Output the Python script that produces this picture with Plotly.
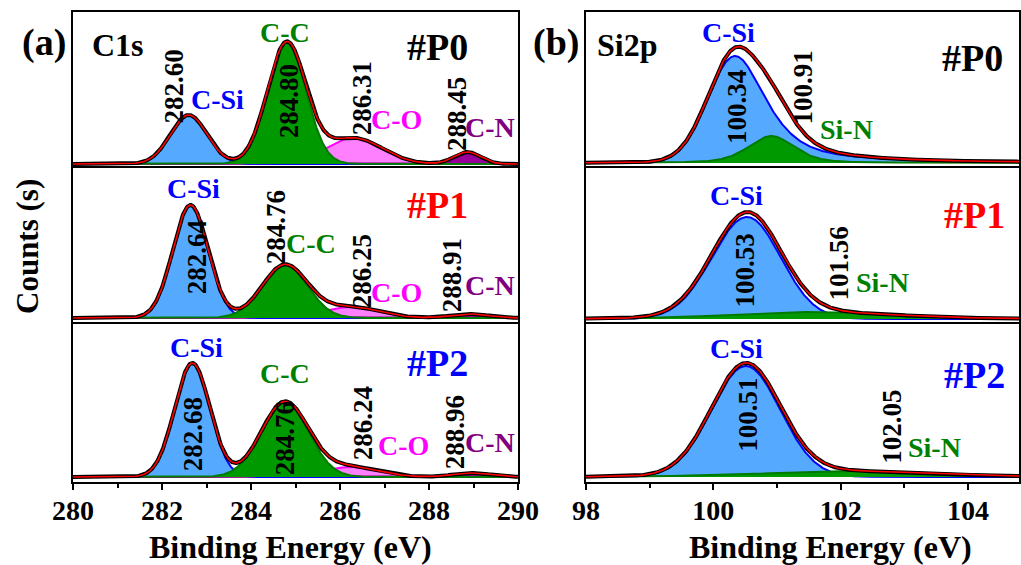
import numpy as np
import plotly.graph_objects as go

# ------------------------------------------------------------------
# Data
# ------------------------------------------------------------------
samples = ["#P0", "#P1", "#P2"]
sample_colors = ["#000000", "#FF0000", "#0000FF"]

# Panel (a): C1s peak-fit components (height in arbitrary counts)
c1s_components = ["C-Si", "C-C", "C-O", "C-N"]
c1s_labels = [["282.60", "284.80", "286.31", "288.45"],
              ["282.64", "284.76", "286.25", "288.91"],
              ["282.68", "284.76", "286.24", "288.96"]]
c1s_center = [[282.60, 284.80, 286.31, 288.86],
              [282.64, 284.76, 286.25, 288.91],
              [282.68, 284.76, 286.24, 288.96]]
c1s_height = [[49, 121, 26, 12],
              [113, 53, 11, 4],
              [114, 75, 10, 4]]
c1s_fwhm = [[0.97, 1.02, 1.5, 0.7],
            [0.93, 1.2, 1.5, 1.0],
            [0.93, 1.25, 1.5, 1.0]]

# Panel (b): Si2p peak-fit components
si_components = ["C-Si", "Si-N"]
si_labels = [["100.34", "100.91"], ["100.53", "101.56"], ["100.51", "102.05"]]
si_center = [[100.34, 100.91], [100.53, 101.56], [100.51, 102.05]]
si_height = [[107, 27], [102, 7], [111, 6]]
si_fwhm_left = [[1.0, 0.85], [1.3, 3.0], [1.27, 3.2]]
si_fwhm_right = [[1.16, 0.85], [1.24, 3.0], [1.27, 3.2]]
si_lorentz_left = [[0.0, 0.4], [0.0, 0.3], [0.0, 0.3]]
si_lorentz_right = [[0.7, 0.4], [0.0, 0.3], [0.0, 0.3]]

c1s_xrange = [280, 290]
si_xrange = [98, 104.8]
tick_vals_a = [280, 282, 284, 286, 288, 290]
tick_vals_b = [98, 100, 102, 104]

# ------------------------------------------------------------------
# Styling
# ------------------------------------------------------------------
FONT = "Liberation Serif"
W, H = 1021, 565
comp_style = {
    "C-Si": dict(fill="#55AAFF", line="#0000FF", text="#0000FF"),
    "C-C": dict(fill="#009900", line="#007A00", text="#008000"),
    "C-O": dict(fill="#FF80FF", line="#FF00FF", text="#FF00FF"),
    "C-N": dict(fill="#990099", line="#800080", text="#800080"),
    "Si-N": dict(fill="#009900", line="#007A00", text="#008000"),
}

xdom = [[73 / W, 518 / W], [586 / W, 1019 / W]]
ydom = [[1 - 166 / H, 1 - 12 / H], [1 - 322 / H, 1 - 168 / H], [1 - 482 / H, 1 - 324 / H]]
yranges = [[[-2, 152], [-4, 150], [-5, 153]],
           [[-3, 151], [-3, 151], [-5, 153]]]

# annotation placements (data coordinates of each subplot)
a_name_pos = [[(283.24, 64), (284.77, 131), (287.28, 44), (289.37, 36)],
              [(282.70, 130), (285.35, 75), (287.28, 26), (289.37, 33)],
              [(282.77, 130), (284.77, 104), (287.42, 32), (289.37, 35)]]
a_num_pos = [[(282.26, 77), (284.86, 63), (286.50, 66), (288.63, 50)],
             [(282.79, 61), (284.57, 91), (286.50, 47), (288.52, 43)],
             [(282.70, 43), (284.77, 39), (286.52, 54), (288.59, 45)]]
a_sample_pos = [(288.2, 117), (288.18, 113), (288.18, 114)]
b_name_pos = [[(100.24, 130), (102.09, 33)],
              [(100.37, 124), (102.66, 37)],
              [(100.37, 129), (103.47, 30)]]
b_num_pos = [[(100.37, 56), (101.40, 75)],
             [(100.49, 48), (101.98, 56)],
             [(100.54, 62), (102.80, 50)]]
b_sample_pos = [(104.07, 105), (104.10, 104), (104.10, 102)]


def peak(x, c, h, wl, wr, ml=0.0, mr=0.0):
    w = np.where(x < c, wl, wr)
    m = np.where(x < c, ml, mr)
    u = (x - c) / (w / 2.0)
    return h * ((1 - m) * np.exp(-np.log(2) * u ** 2) + m / (1 + u ** 2))


fig = go.Figure()
annotations = []

xa = np.linspace(c1s_xrange[0], c1s_xrange[1], 801)
xb = np.linspace(si_xrange[0], si_xrange[1], 681)


def ax_names(row, col):
    idx = row * 2 + col + 1
    s = "" if idx == 1 else str(idx)
    return "x" + s, "y" + s, idx


def text_ann(text, x, y, xref, yref, color, size, angle=0):
    annotations.append(dict(text=text, x=x, y=y, xref=xref, yref=yref,
                            xanchor="center", yanchor="middle",
                            showarrow=False, textangle=angle,
                            font=dict(family=FONT, size=size, color=color, weight="bold")))


for r in range(3):
    # ---------------- panel (a) ----------------
    xr, yr, idx = ax_names(r, 0)
    comps = [peak(xa, c1s_center[r][k], c1s_height[r][k], c1s_fwhm[r][k], c1s_fwhm[r][k])
             for k in range(4)]
    for k in [2, 3, 0, 1]:
        st = comp_style[c1s_components[k]]
        fig.add_trace(go.Scatter(x=xa, y=comps[k], mode="lines", fill="tozeroy",
                                 fillcolor=st["fill"], line=dict(color=st["line"], width=2),
                                 xaxis=xr, yaxis=yr, showlegend=False, hoverinfo="skip"))
    total = np.sum(comps, axis=0)
    fig.add_trace(go.Scatter(x=xa, y=total, mode="lines", line=dict(color="black", width=4),
                             xaxis=xr, yaxis=yr, showlegend=False, hoverinfo="skip"))
    fig.add_trace(go.Scatter(x=xa, y=total, mode="lines", line=dict(color="#FF0000", width=1.6),
                             xaxis=xr, yaxis=yr, showlegend=False, hoverinfo="skip"))
    for k in range(4):
        st = comp_style[c1s_components[k]]
        nx, ny = a_name_pos[r][k]
        text_ann(c1s_components[k], nx, ny, xr, yr, st["text"], 28)
        vx, vy = a_num_pos[r][k]
        text_ann(c1s_labels[r][k], vx, vy, xr, yr, "black", 27, -90)
    sx, sy = a_sample_pos[r]
    text_ann(samples[r], sx, sy, xr, yr, sample_colors[r], 38)
    if r == 0:
        text_ann("C1s", 281.0, 119, xr, yr, "black", 32)

    # ---------------- panel (b) ----------------
    xr, yr, idx = ax_names(r, 1)
    comps = [peak(xb, si_center[r][k], si_height[r][k], si_fwhm_left[r][k], si_fwhm_right[r][k],
                  si_lorentz_left[r][k], si_lorentz_right[r][k]) for k in range(2)]
    for k in [0, 1]:
        st = comp_style[si_components[k]]
        fig.add_trace(go.Scatter(x=xb, y=comps[k], mode="lines", fill="tozeroy",
                                 fillcolor=st["fill"], line=dict(color=st["line"], width=2),
                                 xaxis=xr, yaxis=yr, showlegend=False, hoverinfo="skip"))
    total = np.sum(comps, axis=0)
    fig.add_trace(go.Scatter(x=xb, y=total, mode="lines", line=dict(color="black", width=4),
                             xaxis=xr, yaxis=yr, showlegend=False, hoverinfo="skip"))
    fig.add_trace(go.Scatter(x=xb, y=total, mode="lines", line=dict(color="#FF0000", width=1.6),
                             xaxis=xr, yaxis=yr, showlegend=False, hoverinfo="skip"))
    for k in range(2):
        st = comp_style[si_components[k]]
        nx, ny = b_name_pos[r][k]
        text_ann(si_components[k], nx, ny, xr, yr, st["text"], 28)
        vx, vy = b_num_pos[r][k]
        text_ann(si_labels[r][k], vx, vy, xr, yr, "black", 27, -90)
    sx, sy = b_sample_pos[r]
    text_ann(samples[r], sx, sy, xr, yr, sample_colors[r], 38)
    if r == 0:
        text_ann("Si2p", 98.64, 118, xr, yr, "black", 32)

# axes
layout_axes = {}
for r in range(3):
    for c in range(2):
        xr, yr, idx = ax_names(r, c)
        key = "" if idx == 1 else str(idx)
        bottom = (r == 2)
        xaxis = dict(domain=xdom[c], anchor=yr, range=c1s_xrange if c == 0 else si_xrange,
                     automargin=False,
                     showline=True, mirror=True, linecolor="black", linewidth=2,
                     showgrid=False, zeroline=False,
                     tickmode="array", tickvals=tick_vals_a if c == 0 else tick_vals_b,
                     ticks="outside" if bottom else "", ticklen=6, tickwidth=2, tickcolor="black",
                     showticklabels=bottom, ticklabelstandoff=-4,
                     tickfont=dict(family=FONT, size=28, color="black", weight="bold"))
        if bottom:
            xaxis["minor"] = dict(dtick=1, tick0=0, ticks="outside", ticklen=4, tickwidth=2,
                                  tickcolor="black", showgrid=False)
        yaxis = dict(domain=ydom[r], anchor=xr, range=yranges[c][r], automargin=False,
                     showline=True, mirror=True, linecolor="black", linewidth=2,
                     showgrid=False, zeroline=False, ticks="", showticklabels=False)
        layout_axes["xaxis" + key] = xaxis
        layout_axes["yaxis" + key] = yaxis

# panel-level labels (paper coordinates)
text_ann("(a)", 44 / W, 1 - 43 / H, "paper", "paper", "black", 38)
text_ann("(b)", 556 / W, 1 - 43 / H, "paper", "paper", "black", 38)
text_ann("Counts (s)", 28 / W, 1 - 247 / H, "paper", "paper", "black", 31, -90)
text_ann("Binding Energy (eV)", 290 / W, 1 - 547 / H, "paper", "paper", "black", 32)
text_ann("Binding Energy (eV)", 830 / W, 1 - 547 / H, "paper", "paper", "black", 32)

fig.update_layout(template="none", width=W, height=H, margin=dict(l=0, r=0, t=0, b=0),
                  paper_bgcolor="white", plot_bgcolor="white",
                  annotations=annotations, showlegend=False, **layout_axes)

fig.write_html("out.html", config={"displayModeBar": False},
               post_script="document.body.style.margin='0px';document.body.style.padding='0px';")
